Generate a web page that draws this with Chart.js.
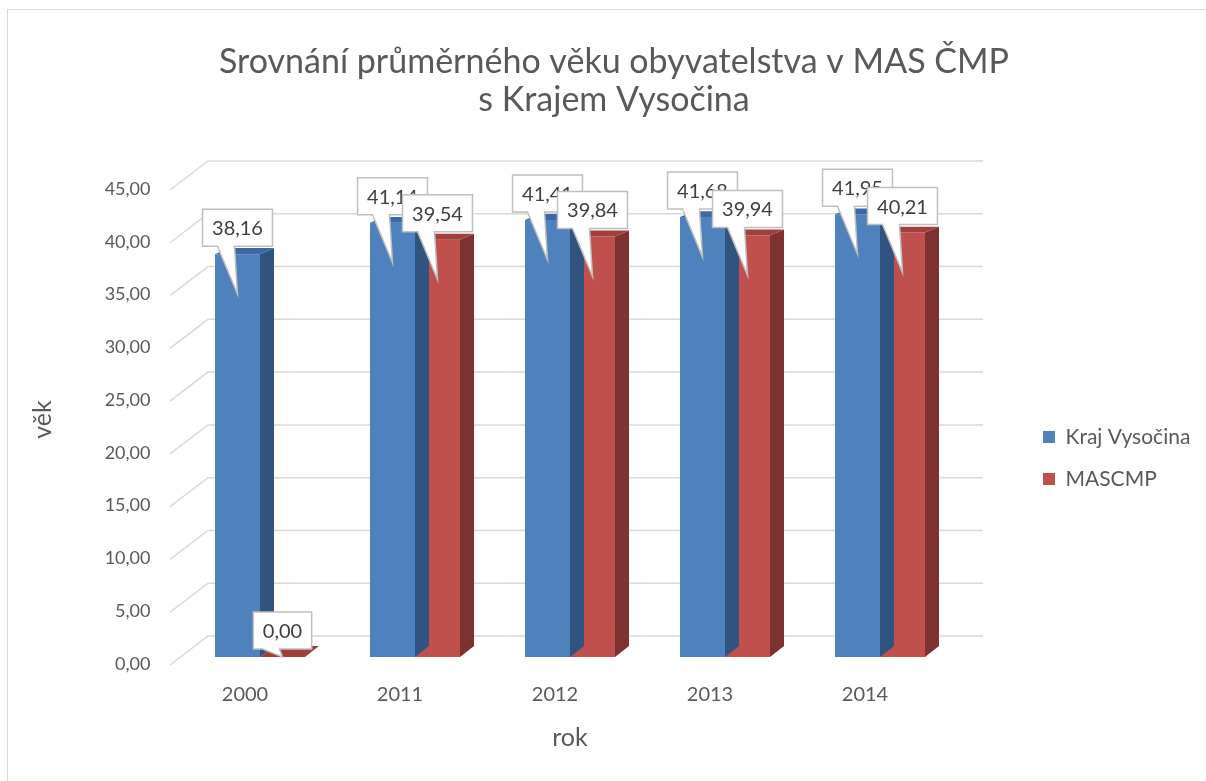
<!DOCTYPE html>
<html>
<head>
<meta charset="utf-8">
<script src="https://cdn.jsdelivr.net/npm/chart.js@4.4.0/dist/chart.umd.min.js"></script>
<style>
  html, body { margin: 0; padding: 0; background: #fff; }
  #wrap { position: relative; width: 1206px; height: 781px; overflow: hidden; }
  #frame { position: absolute; left: 7px; top: 9px; width: 1220px; height: 800px; border: 1.5px solid #d9d9d9; }
  canvas { position: absolute; left: 0; top: 0; }
</style>
</head>
<body>
<div id="wrap">
  <div id="frame"></div>
  <canvas id="myChart" width="1206" height="781"></canvas>
</div>
<script>

// ========== data
const years = ['2000', '2011', '2012', '2013', '2014']
const krajVysocina = [38.16, 41.14, 41.41, 41.68, 41.95]
const mascmp = [0.00, 39.54, 39.84, 39.94, 40.21]
const seriesNames = ['Kraj Vysočina', 'MASCMP']
const yMax = 45
const yStep = 5

const titleLines = ['Srovnání průměrného věku obyvatelstva v MAS ČMP', 's Krajem Vysočina']

// ========== look
const FONT = 'Lato'
const textColor = '#595959'
const frontColors = ['#4f81bd', '#c0504d']
const topColors = ['#3c69a4', '#a0403d']
const sideColors = ['#30547f', '#7d3130']
const gridColor = '#d9d9d9'

Chart.defaults.font.family = FONT
Chart.defaults.color = textColor

const fmt = v => v.toFixed(2).replace('.', ',')

// depth of the 3d bars (a bit more from above near the floor)
const DX = 14
function depthY(y) {
  return -6 - 5 * (y - 239) / 418
}

// legend geometry: keep the squares where the reference has them
const legendFont = 21
const legendPad = 21
const legendLeft = 1022
const mctx = document.createElement('canvas').getContext('2d')
mctx.font = legendFont + 'px ' + FONT
const legendTextW = Math.max(...seriesNames.map(s => mctx.measureText(s).width))
const legendW = legendPad + 12 + legendFont / 2 + legendTextW + 10
const padRight = 1206 - legendLeft - legendW
// title centred around x=614 like the reference
const padLeft = 22 + padRight
const plotLeft = 182.5
const plotRight = 957.5
const yTitleFont = 25
const yTitlePad = Math.max(0, 42 - padLeft - yTitleFont * 1.2 / 2)


// ========== plugins

const wall3d = {
	id: 'wall3d',
	beforeDatasetsDraw(chart) {
		const ctx = chart.ctx
		const y = chart.scales.y
		const area = chart.chartArea
		ctx.save()
		ctx.strokeStyle = gridColor
		ctx.lineWidth = 1.5
		for (let v = 0; v <= yMax; v += yStep) {
			const py = y.getPixelForValue(v)
			ctx.beginPath()
			ctx.moveTo(area.left - 12.5, py + 8)
			ctx.lineTo(area.left + 25.5, py - 21)
			ctx.lineTo(area.right + 25.5, py - 21)
			ctx.stroke()
		}
		ctx.restore()
	}
}

const bars3d = {
	id: 'bars3d',
	afterDatasetDraw(chart, args) {
		const ctx = chart.ctx
		const i = args.index
		ctx.save()
		args.meta.data.forEach(bar => {
			const p = bar.getProps(['x', 'y', 'base', 'width'], true)
			const x0 = p.x - p.width / 2
			const x1 = p.x + p.width / 2
			const dt = depthY(p.y)
			const db = depthY(p.base)
			// side
			ctx.fillStyle = sideColors[i]
			ctx.beginPath()
			ctx.moveTo(x1, p.y)
			ctx.lineTo(x1 + DX, p.y + dt)
			ctx.lineTo(x1 + DX, p.base + db)
			ctx.lineTo(x1, p.base)
			ctx.closePath()
			ctx.fill()
			// top
			ctx.fillStyle = topColors[i]
			ctx.beginPath()
			ctx.moveTo(x0, p.y)
			ctx.lineTo(x1, p.y)
			ctx.lineTo(x1 + DX, p.y + dt)
			ctx.lineTo(x0 + DX, p.y + dt)
			ctx.closePath()
			ctx.fill()
		})
		ctx.restore()
	}
}

const callouts = {
	id: 'callouts',
	afterDatasetsDraw(chart) {
		const ctx = chart.ctx
		ctx.save()
		ctx.font = '20px ' + FONT
		ctx.textAlign = 'center'
		ctx.textBaseline = 'middle'
		for (let j = 0; j < years.length; j++) {
			chart.data.datasets.forEach((ds, i) => {
				const bar = chart.getDatasetMeta(i).data[j]
				const p = bar.getProps(['x', 'y', 'base'], true)
				const text = fmt(ds.data[j])
				const w = ctx.measureText(text).width + 19
				const h = 37
				const l = p.x - w / 2
				const r = p.x + w / 2
				const t = p.y - 45
				const b = t + h
				const tipY = Math.min(p.y + 40, p.base)

				ctx.beginPath()
				ctx.moveTo(l, t)
				ctx.lineTo(r, t)
				ctx.lineTo(r, b)
				ctx.lineTo(p.x - 3, b)
				ctx.lineTo(p.x, tipY)
				ctx.lineTo(p.x - 20, b)
				ctx.lineTo(l, b)
				ctx.closePath()
				ctx.fillStyle = '#ffffff'
				ctx.fill()
				ctx.strokeStyle = '#bfbfbf'
				ctx.lineWidth = 1.5
				ctx.stroke()

				ctx.fillStyle = '#404040'
				ctx.fillText(text, p.x, t + h / 2 + 1)
			})
		}
		ctx.restore()
	}
}


// ========== chart

const ctx1 = document.getElementById('myChart').getContext('2d')
let myChart = new Chart(ctx1, {
	type: 'bar',
	data: {
		labels: years,
		datasets: [{
			label: seriesNames[0],
			data: krajVysocina,
			backgroundColor: frontColors[0],
			borderWidth: 0
		}, {
			label: seriesNames[1],
			data: mascmp,
			backgroundColor: frontColors[1],
			borderWidth: 0
		}]
	},
	options: {
		responsive: false,
		animation: false,
		layout: {
			padding: { top: 0, left: padLeft, bottom: 24, right: padRight }
		},
		datasets: {
			bar: { categoryPercentage: 90 / 155, barPercentage: 1 }
		},
		scales: {
			x: {
				grid: { display: false, drawTicks: false },
				border: { display: false },
				ticks: { labelOffset: -15, padding: 26, color: textColor, font: { size: 20 } },
				title: { display: true, text: 'rok', color: textColor, font: { size: 25 }, padding: { top: 0, bottom: 4 } },
				afterFit: s => { s.height = 100 }
			},
			y: {
				min: 0,
				max: yMax,
				grid: { display: false, drawTicks: false },
				border: { display: false },
				ticks: {
					stepSize: yStep,
					padding: 32,
					labelOffset: 7,
					color: textColor,
					font: { size: 18 },
					callback: v => fmt(v)
				},
				title: { display: true, text: 'věk', color: textColor, font: { size: yTitleFont }, padding: { top: yTitlePad, bottom: 0 } },
				afterFit: s => { s.width = plotLeft - padLeft }
			},
			gap: {
				position: 'right',
				grid: { display: false, drawTicks: false },
				border: { display: false },
				ticks: { display: false },
				afterFit: s => { s.width = legendLeft - plotRight }
			}
		},
		plugins: {
			title: {
				display: true,
				text: titleLines,
				color: textColor,
				font: { size: 34, weight: 'normal', lineHeight: 38 / 34 },
				padding: { top: 43, bottom: 63 }
			},
			legend: {
				position: 'right',
				align: 'start',
				title: { display: true, text: ' ', padding: { top: 391, bottom: 0 } },
				labels: {
					boxWidth: 12,
					boxHeight: 12,
					padding: legendPad,
					color: textColor,
					font: { size: legendFont }
				}
			},
			tooltip: { enabled: false }
		}
	},
	plugins: [wall3d, bars3d, callouts]
});

</script>
</body>
</html>
